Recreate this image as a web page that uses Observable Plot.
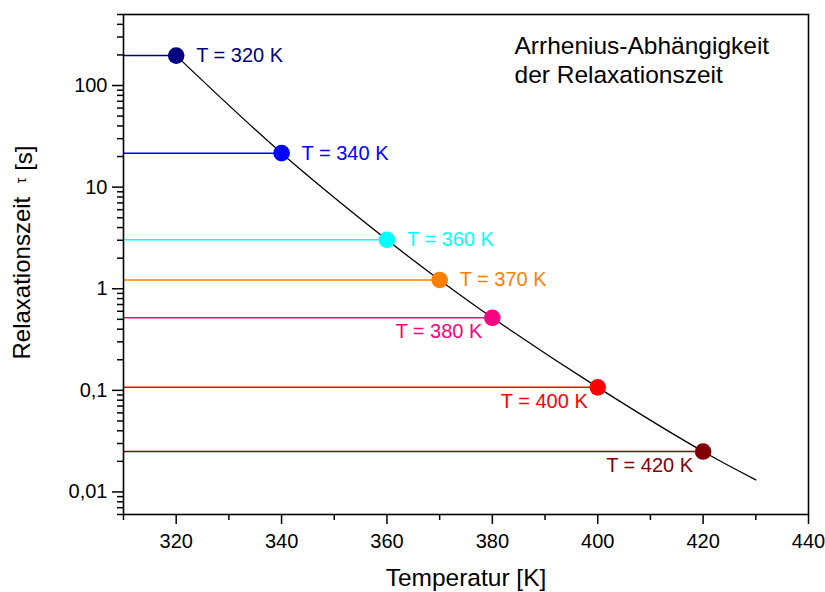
<!DOCTYPE html>
<html>
<head>
<meta charset="utf-8">
<script src="https://cdn.jsdelivr.net/npm/d3@7"></script>
<script src="https://cdn.jsdelivr.net/npm/@observablehq/plot@0.6"></script>
<style>
  html, body { margin: 0; padding: 0; background: #fff; }
  #chart { width: 825px; height: 592px; }
</style>
</head>
<body>
<div id="chart"></div>
<script>
// Data
const temps = [320, 340, 360, 370, 380, 400, 420];
const taus = [197, 21.6, 3.03, 1.22, 0.518, 0.107, 0.025];
const colors = ["#000080", "#0000ff", "#00ffff", "#ff8000", "#ff0080", "#ff0000", "#800000"];
const labels = temps.map(t => `T = ${t} K`);
const labelAbove = [true, true, true, true, false, false, false];

// black curve through the points (plus the end of the curve)
const curveT = [320, 340, 360, 370, 380, 400, 420, 430];
const curveTau = [197, 21.6, 3.03, 1.22, 0.518, 0.107, 0.025, 0.01315];

const xDomain = [310, 440];
const yDomain = [0.006, 500];
const xMajor = [320, 340, 360, 380, 400, 420, 440];
const xMinor = [310, 330, 350, 370, 390, 410, 430];
const yMajor = [0.01, 0.1, 1, 10, 100];
const yMinor = [0.006, 0.007, 0.008, 0.009,
  0.02, 0.03, 0.04, 0.05, 0.06, 0.07, 0.08, 0.09,
  0.2, 0.3, 0.4, 0.5, 0.6, 0.7, 0.8, 0.9,
  2, 3, 4, 5, 6, 7, 8, 9,
  20, 30, 40, 50, 60, 70, 80, 90,
  200, 300, 400, 500];

const titleText = "Arrhenius-Abhängigkeit\nder Relaxationszeit";
const xLabel = "Temperatur [K]";
const yLabel = "Relaxationszeit  τ [s]";

const pts = temps.map((t, i) => ({t, tau: taus[i], color: colors[i], label: labels[i], above: labelAbove[i]}));
const curve = curveT.map((t, i) => ({t, tau: curveTau[i]}));
const fmt = d => String(d).replace(".", ",");

const chart = Plot.plot({
  width: 825,
  height: 592,
  marginLeft: 123,
  marginRight: 17,
  marginTop: 14,
  marginBottom: 78,
  style: {fontFamily: "'Liberation Sans', Arial, sans-serif", color: "black", background: "white"},
  x: {domain: xDomain},
  y: {type: "log", domain: yDomain},
  color: {type: "identity"},
  marks: [
    Plot.ruleY(pts, {y: "tau", x1: xDomain[0], x2: "t", stroke: "color", strokeWidth: 1.5}),
    Plot.line(curve, {x: "t", y: "tau", curve: "catmull-rom", stroke: "black", strokeWidth: 1.3}),
    Plot.dot(pts, {x: "t", y: "tau", r: 8.3, fill: "color", stroke: null}),
    Plot.text(pts.filter(d => d.above), {x: "t", y: "tau", text: "label", fill: "color", textAnchor: "start", dx: 20, fontSize: 20}),
    Plot.text(pts.filter(d => !d.above), {x: "t", y: "tau", text: "label", fill: "color", textAnchor: "end", dx: -10, dy: 14, fontSize: 20}),
    Plot.axisX({ticks: xMajor, tickSize: 10, tickPadding: 9, fontSize: 20, strokeWidth: 1.5, label: null}),
    Plot.axisX({ticks: xMinor, tickSize: 6, text: null, strokeWidth: 1.5, label: null}),
    Plot.axisY({ticks: yMajor, tickSize: 11, tickPadding: 5, fontSize: 20, strokeWidth: 1.5, tickFormat: fmt, label: null}),
    Plot.axisY({ticks: yMinor, tickSize: 6, text: null, strokeWidth: 1.5, label: null}),
    Plot.frame({stroke: "black", strokeWidth: 1.6}),
    Plot.text([titleText], {frameAnchor: "top-left", dx: 391, dy: 19, textAnchor: "start", lineAnchor: "top", lineHeight: 1.17, fontSize: 24.5}),
    Plot.text([xLabel], {frameAnchor: "bottom", dy: 64, lineAnchor: "middle", fontSize: 24.5}),
    Plot.text([yLabel], {frameAnchor: "left", dx: -101, dy: -12, rotate: -90, textAnchor: "middle", lineAnchor: "middle", fontSize: 24, className: "ylab"})
  ]
});
document.getElementById("chart").appendChild(chart);

// render the tau smaller, as in the reference
d3.select(chart).selectAll(".ylab text").each(function() {
  const el = d3.select(this);
  const txt = el.text();
  const i = txt.indexOf("τ");
  if (i < 0) return;
  el.text(null);
  el.append("tspan").text(txt.slice(0, i));
  el.append("tspan").attr("font-size", 15).attr("dy", "-0.25em").text("τ");
  el.append("tspan").attr("dy", "0.25em").text(txt.slice(i + 1));
});
</script>
</body>
</html>
